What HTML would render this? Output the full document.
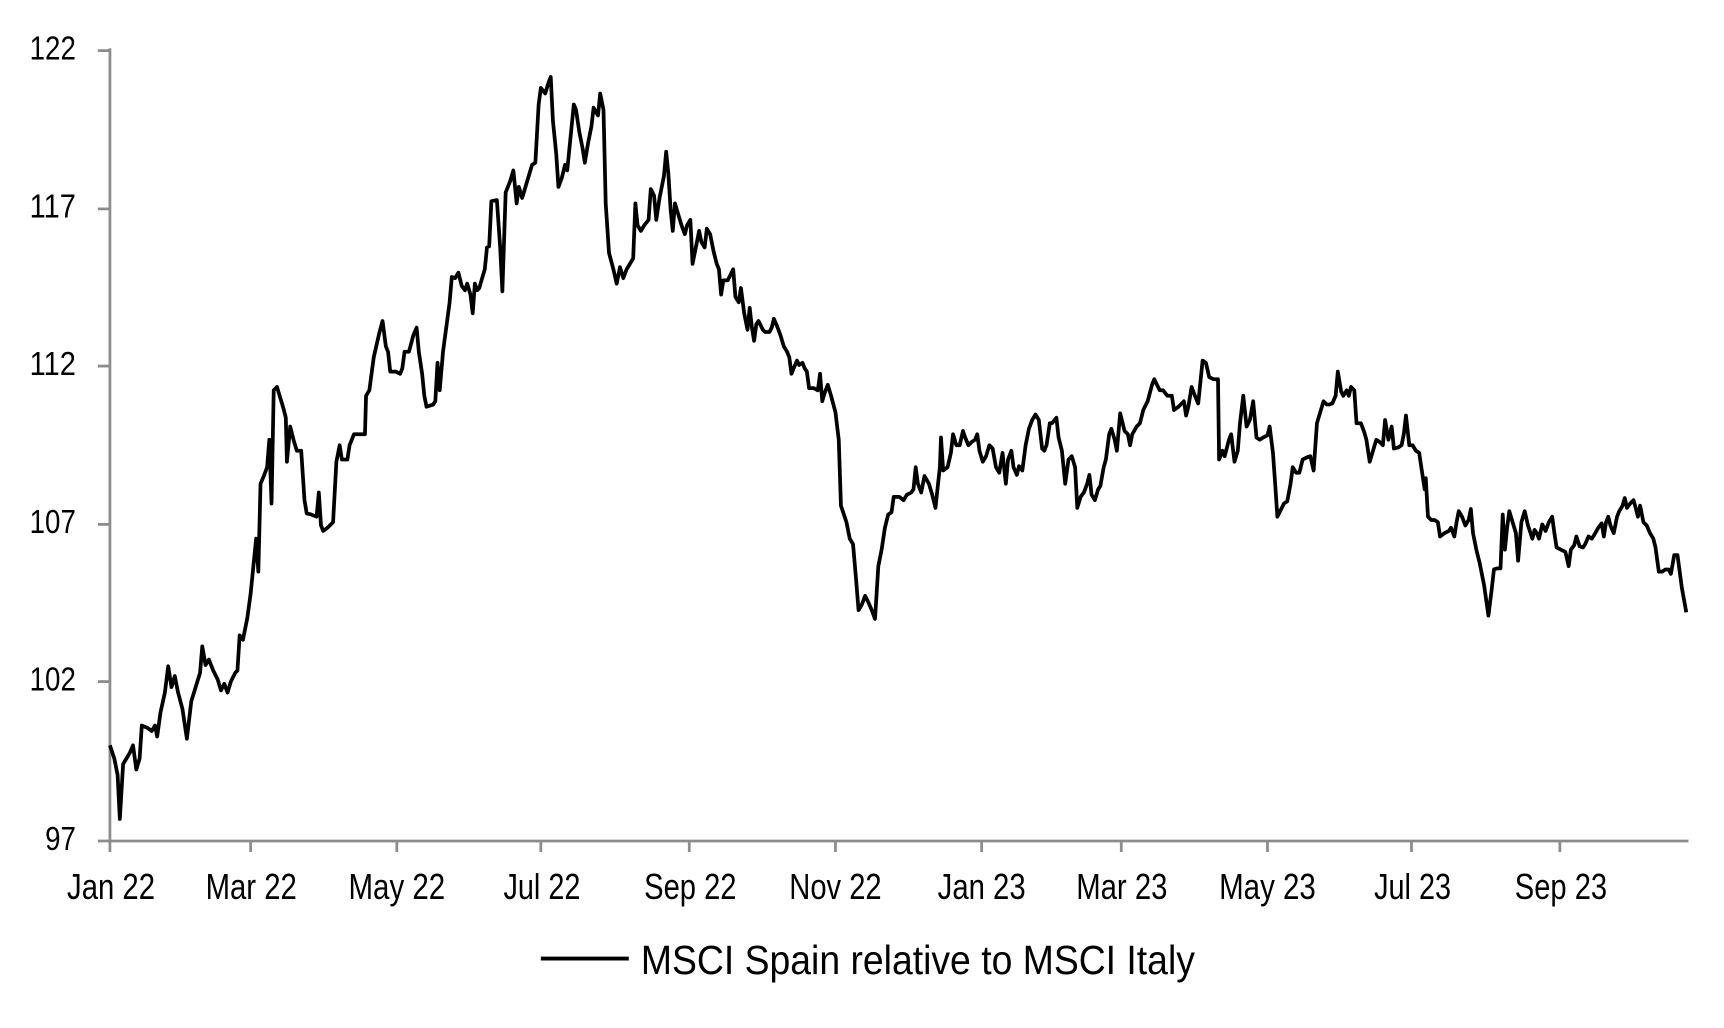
<!DOCTYPE html>
<html><head><meta charset="utf-8"><style>
html,body{margin:0;padding:0;background:#fff;}
svg{display:block;}
text{font-family:"Liberation Sans",Arial,sans-serif;fill:#000;}
</style></head><body>
<svg width="1724" height="1028" viewBox="0 0 1568.3 935.1" xmlns="http://www.w3.org/2000/svg">
<g stroke="#8c8c8c" stroke-width="2.5" fill="none">
<line x1="100" y1="44" x2="100" y2="766"/>
<line x1="100" y1="765" x2="1536" y2="765"/>
<line x1="89" y1="46" x2="100" y2="46"/>
<line x1="89" y1="190" x2="100" y2="190"/>
<line x1="89" y1="333" x2="100" y2="333"/>
<line x1="89" y1="477" x2="100" y2="477"/>
<line x1="89" y1="620" x2="100" y2="620"/>
<line x1="89" y1="765" x2="100" y2="765"/>
<line x1="100" y1="765" x2="100" y2="775"/>
<line x1="228" y1="765" x2="228" y2="775"/>
<line x1="361" y1="765" x2="361" y2="775"/>
<line x1="492" y1="765" x2="492" y2="775"/>
<line x1="627" y1="765" x2="627" y2="775"/>
<line x1="760" y1="765" x2="760" y2="775"/>
<line x1="893" y1="765" x2="893" y2="775"/>
<line x1="1020" y1="765" x2="1020" y2="775"/>
<line x1="1153" y1="765" x2="1153" y2="775"/>
<line x1="1284" y1="765" x2="1284" y2="775"/>
<line x1="1419" y1="765" x2="1419" y2="775"/>
</g>
<g font-size="30" text-anchor="end">
<text x="69" y="54" textLength="42" lengthAdjust="spacingAndGlyphs">122</text>
<text x="69" y="198" textLength="42" lengthAdjust="spacingAndGlyphs">117</text>
<text x="69" y="341" textLength="42" lengthAdjust="spacingAndGlyphs">112</text>
<text x="69" y="485" textLength="42" lengthAdjust="spacingAndGlyphs">107</text>
<text x="69" y="628" textLength="42" lengthAdjust="spacingAndGlyphs">102</text>
<text x="69" y="773" textLength="28" lengthAdjust="spacingAndGlyphs">97</text>
</g>
<g font-size="33">
<text x="61" y="818" textLength="80" lengthAdjust="spacingAndGlyphs">Jan 22</text>
<text x="187" y="818" textLength="83" lengthAdjust="spacingAndGlyphs">Mar 22</text>
<text x="317" y="818" textLength="88" lengthAdjust="spacingAndGlyphs">May 22</text>
<text x="458" y="818" textLength="70" lengthAdjust="spacingAndGlyphs">Jul 22</text>
<text x="586" y="818" textLength="84" lengthAdjust="spacingAndGlyphs">Sep 22</text>
<text x="718" y="818" textLength="84" lengthAdjust="spacingAndGlyphs">Nov 22</text>
<text x="853" y="818" textLength="80" lengthAdjust="spacingAndGlyphs">Jan 23</text>
<text x="979" y="818" textLength="83" lengthAdjust="spacingAndGlyphs">Mar 23</text>
<text x="1109" y="818" textLength="88" lengthAdjust="spacingAndGlyphs">May 23</text>
<text x="1250" y="818" textLength="70" lengthAdjust="spacingAndGlyphs">Jul 23</text>
<text x="1378" y="818" textLength="84" lengthAdjust="spacingAndGlyphs">Sep 23</text>
</g>
<line x1="492" y1="872" x2="572" y2="872" stroke="#000" stroke-width="3.5"/>
<text x="583" y="886" font-size="37" textLength="504" lengthAdjust="spacingAndGlyphs">MSCI Spain relative to MSCI Italy</text>
<polyline fill="none" stroke="#000" stroke-width="3.4" stroke-linejoin="round" points="100,678 104,690 107,705 109,745 112,695 118,685 121,678 124,700 127,690 129,660 134,662 138,665 141,660 143,670 146,648 150,630 153,606 156,625 159,615 162,630 166,645 170,672 174,638 178,625 182,612 184,588 187,605 190,600 194,610 198,618 201,628 204,622 207,630 210,620 214,612 216,610 218,578 221,582 225,562 228,540 231,510 233,490 235,520 237,440 240,433 243,425 245,400 247,458 249,355 252,352 258,372 260,380 261,420 264,388 267,400 270,410 274,410 277,455 279,467 283,468 288,470 290,448 292,478 294,483 298,480 303,475 306,420 309,405 311,418 316,418 318,405 322,395 332,395 333,360 336,355 340,325 345,303 348,292 351,315 353,320 355,338 360,338 364,340 366,335 368,320 372,320 376,305 379,298 381,320 384,340 386,360 388,370 394,368 396,365 398,330 400,355 403,320 407,290 409,275 411,252 414,253 417,248 420,260 423,264 425,258 428,268 430,285 432,258 434,264 436,262 438,255 441,245 443,225 445,224 447,183 452,182 455,225 457,265 460,175 464,165 467,155 470,185 472,170 475,180 478,170 481,160 484,150 487,148 490,95 492,80 496,85 499,75 501,70 503,110 506,140 508,170 511,162 514,150 516,155 519,125 522,95 524,100 527,120 530,135 532,148 535,130 538,115 540,98 544,105 546,85 549,100 551,185 554,230 558,245 561,258 564,243 567,253 570,245 573,240 576,235 578,185 580,205 583,210 586,205 590,200 592,172 595,178 597,200 600,180 604,160 606,138 608,158 610,190 612,210 614,185 617,195 620,205 623,213 625,205 628,200 630,240 633,225 636,210 638,220 641,225 643,208 646,213 649,228 652,240 654,245 656,268 658,255 662,255 667,245 669,270 672,275 674,262 677,285 680,300 682,280 684,298 686,310 688,295 690,292 694,300 696,302 700,302 702,298 704,290 707,297 710,305 713,315 716,320 718,325 720,340 722,335 725,328 727,332 730,330 732,335 734,338 736,353 740,353 744,355 746,340 748,365 750,358 753,350 756,360 760,375 763,400 765,460 770,475 773,490 776,495 779,530 781,555 784,550 787,542 790,548 793,555 796,563 799,515 802,500 805,480 808,468 811,466 813,452 818,452 822,455 825,450 829,448 831,445 833,425 835,440 838,448 841,433 845,440 848,450 851,462 853,443 855,425 856,398 858,428 862,425 865,412 867,395 870,405 873,405 876,392 878,398 881,405 884,402 887,400 889,395 891,410 894,420 897,415 900,405 903,408 906,425 909,430 912,412 915,440 917,418 920,410 922,425 925,432 927,424 930,428 933,405 936,390 939,382 942,377 945,382 948,408 950,410 952,405 955,385 957,385 961,380 963,398 966,410 969,440 972,418 975,415 978,425 980,462 983,452 986,448 989,440 991,432 993,450 996,455 999,445 1001,442 1004,425 1006,418 1009,395 1011,390 1014,400 1016,410 1019,376 1023,392 1026,395 1028,405 1030,395 1034,388 1037,385 1040,373 1044,365 1048,350 1050,345 1055,355 1058,355 1062,360 1066,360 1068,373 1072,370 1074,368 1077,365 1079,378 1081,370 1084,352 1087,360 1090,367 1094,328 1097,330 1100,343 1104,345 1108,345 1109,418 1112,410 1114,415 1118,400 1120,395 1123,420 1126,410 1128,385 1131,360 1134,388 1137,382 1140,365 1143,398 1146,400 1149,398 1153,396 1155,388 1158,412 1160,440 1162,470 1166,462 1168,458 1171,456 1174,440 1176,425 1179,430 1182,430 1185,418 1189,416 1192,415 1195,428 1198,385 1201,375 1204,365 1207,368 1209,368 1212,367 1215,360 1217,338 1220,356 1222,360 1225,355 1227,360 1229,352 1232,355 1234,385 1238,385 1241,393 1243,400 1246,420 1249,410 1252,400 1255,402 1258,405 1260,382 1263,400 1266,388 1268,408 1272,407 1275,405 1277,395 1279,378 1282,405 1285,405 1288,410 1291,412 1294,432 1296,445 1297,435 1299,470 1302,473 1305,473 1308,475 1310,488 1314,485 1318,483 1320,480 1323,488 1325,475 1327,465 1330,470 1333,478 1336,473 1338,463 1340,485 1343,500 1346,512 1350,532 1354,560 1357,536 1359,518 1362,517 1365,517 1367,468 1369,500 1371,480 1373,465 1376,475 1379,485 1381,510 1384,475 1387,465 1390,478 1394,490 1396,482 1398,485 1400,490 1403,477 1406,483 1409,475 1412,470 1414,485 1416,498 1420,500 1424,502 1427,515 1429,500 1432,496 1434,488 1437,497 1440,498 1442,495 1445,488 1448,490 1450,487 1454,480 1457,476 1459,488 1461,475 1463,470 1465,478 1468,485 1471,470 1473,465 1476,460 1478,453 1480,462 1483,458 1486,455 1488,462 1490,470 1492,460 1495,475 1498,478 1501,485 1504,490 1506,498 1509,520 1512,520 1515,518 1518,518 1520,522 1523,505 1526,505 1530,535 1534,557"/>
</svg>
</body></html>
